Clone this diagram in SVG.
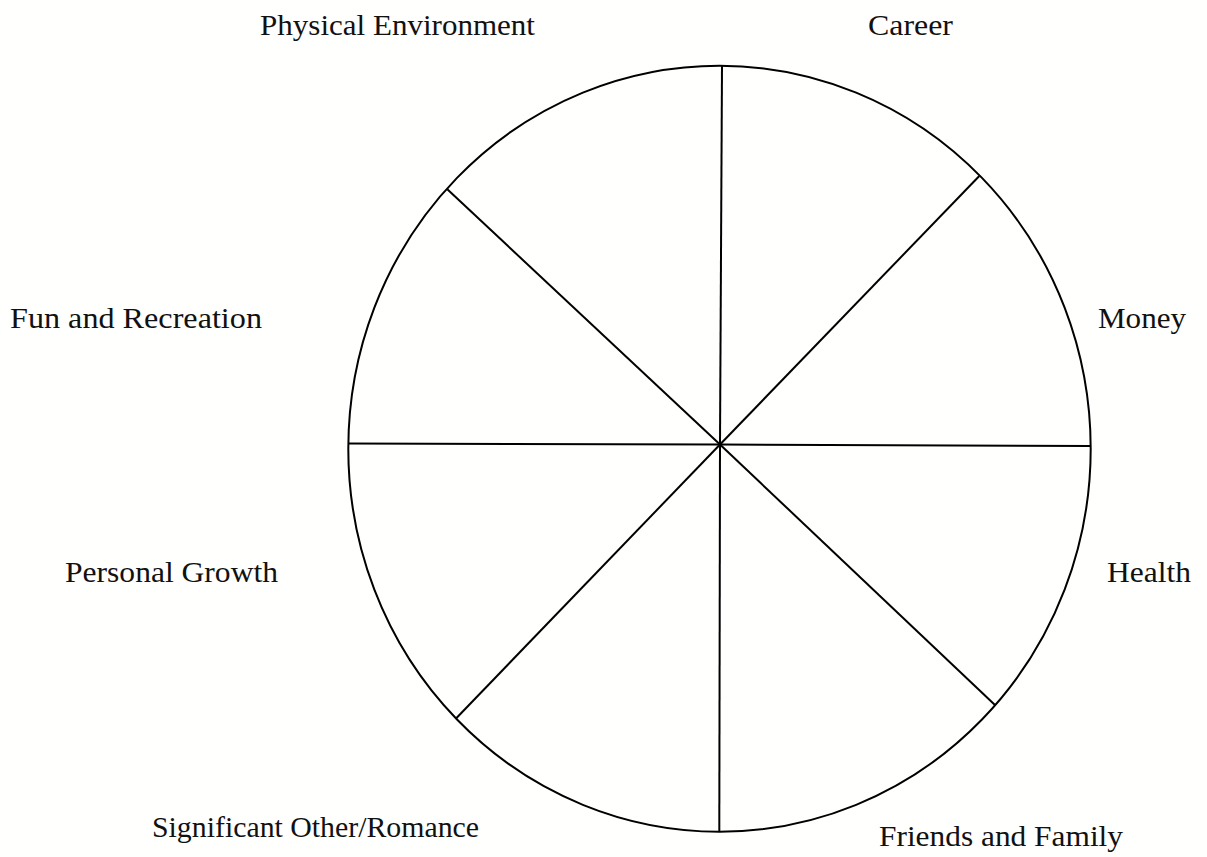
<svg xmlns="http://www.w3.org/2000/svg" width="1207" height="857" viewBox="0 0 1207 857">
<style>
.lbl{font-family:"Liberation Serif","DejaVu Serif",serif;font-size:29px;fill:#111;}
.ln{stroke:#000;stroke-width:2;fill:none;}
</style>
<rect width="1207" height="857" fill="#fffffd"/>
<g id="wheel">
<ellipse class="ln" cx="719.5" cy="448.7" rx="371.2" ry="383"/>
</g>
<g id="connectors">
<line class="ln" x1="720" y1="444.5" x2="722" y2="66"/>
<line class="ln" x1="720" y1="444.5" x2="719.3" y2="832"/>
<line class="ln" x1="720" y1="444.5" x2="348.5" y2="443.5"/>
<line class="ln" x1="720" y1="444.5" x2="1090.5" y2="446"/>
<line class="ln" x1="720" y1="444.5" x2="447.3" y2="189.3"/>
<line class="ln" x1="720" y1="444.5" x2="979.3" y2="176"/>
<line class="ln" x1="720" y1="444.5" x2="456" y2="718.5"/>
<line class="ln" x1="720" y1="444.5" x2="995" y2="705"/>
</g>
<g id="label-physical"><text class="lbl" x="260" y="35" textLength="275" lengthAdjust="spacingAndGlyphs">Physical Environment</text></g>
<g id="label-career"><text class="lbl" x="868" y="35" textLength="85" lengthAdjust="spacingAndGlyphs">Career</text></g>
<g id="label-fun"><text class="lbl" x="10" y="328" textLength="252" lengthAdjust="spacingAndGlyphs">Fun and Recreation</text></g>
<g id="label-money"><text class="lbl" x="1098" y="328" textLength="88" lengthAdjust="spacingAndGlyphs">Money</text></g>
<g id="label-growth"><text class="lbl" x="65" y="582" textLength="213" lengthAdjust="spacingAndGlyphs">Personal Growth</text></g>
<g id="label-health"><text class="lbl" x="1107" y="582" textLength="84" lengthAdjust="spacingAndGlyphs">Health</text></g>
<g id="label-romance"><text class="lbl" x="152" y="837" textLength="327" lengthAdjust="spacingAndGlyphs">Significant Other/Romance</text></g>
<g id="label-friends"><text class="lbl" x="879" y="846" textLength="244" lengthAdjust="spacingAndGlyphs">Friends and Family</text></g>
</svg>
